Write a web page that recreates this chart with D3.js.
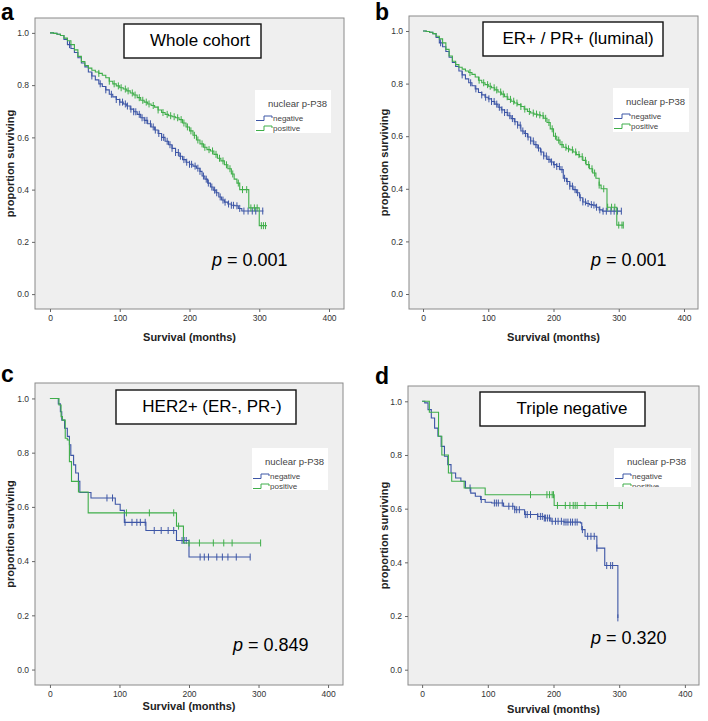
<!DOCTYPE html>
<html>
<head>
<meta charset="utf-8">
<script src="https://cdn.jsdelivr.net/npm/d3@7"></script>
<style>
  body { margin: 0; background: #fff; }
  text { font-family: "Liberation Sans", Arial, sans-serif; }
</style>
</head>
<body>
<svg id="chart" width="708" height="721"></svg>
<script>
// ---- data ----
const xTicks = [0, 100, 200, 300, 400];
const yTicks = [0, 0.2, 0.4, 0.6, 0.8, 1.0];
const panelLetters = ['a', 'b', 'c', 'd'];
const panelTitles = ['Whole cohort', 'ER+ / PR+ (luminal)', 'HER2+ (ER-, PR-)', 'Triple negative'];
const pValues = ['0.001', '0.001', '0.849', '0.320'];
const groups = ['negative', 'positive'];

// [months, proportion surviving] -- value holds from that time on
const wholeNeg = [[0,1],[5,0.998],[10,0.995],[15,0.99],[20,0.975],[25,0.955],[30,0.94],[35,0.925],[40,0.905],[45,0.885],[50,0.87],[55,0.85],[60,0.835],[65,0.82],[70,0.805],[75,0.795],[80,0.782],[85,0.765],[90,0.755],[95,0.745],[100,0.735],[105,0.728],[110,0.72],[115,0.708],[120,0.698],[125,0.688],[130,0.675],[135,0.665],[140,0.652],[145,0.64],[150,0.628],[155,0.615],[160,0.6],[165,0.585],[170,0.572],[175,0.558],[180,0.542],[185,0.528],[190,0.515],[195,0.505],[200,0.497],[205,0.49],[210,0.482],[215,0.47],[218,0.452],[222,0.44],[226,0.425],[230,0.41],[234,0.398],[238,0.388],[242,0.372],[246,0.36],[250,0.352],[255,0.345],[260,0.34],[265,0.338],[270,0.328],[275,0.318],[306,0.318]];
const wholePos = [[0,1],[5,0.998],[10,0.995],[15,0.99],[20,0.98],[25,0.97],[30,0.955],[35,0.935],[40,0.91],[45,0.89],[50,0.875],[55,0.865],[60,0.857],[65,0.85],[70,0.845],[75,0.838],[80,0.828],[85,0.815],[90,0.805],[95,0.797],[100,0.79],[105,0.785],[110,0.778],[115,0.77],[120,0.762],[125,0.752],[130,0.742],[135,0.735],[140,0.728],[145,0.722],[150,0.716],[155,0.705],[160,0.695],[165,0.688],[170,0.683],[175,0.679],[180,0.675],[185,0.668],[190,0.655],[195,0.64],[200,0.625],[205,0.608],[210,0.59],[215,0.575],[220,0.562],[225,0.553],[230,0.548],[235,0.535],[240,0.52],[245,0.51],[250,0.495],[255,0.48],[260,0.46],[264,0.44],[268,0.425],[272,0.4],[285,0.33],[300,0.262],[311,0.262]];
const wholeNegCensor = [28,60,72,80,88,95,100,104,108,111,116,120,123,128,132,136,139,144,148,151,156,160,163,168,172,175,180,184,187,192,196,200,203,208,212,215,220,224,227,232,236,239,244,248,251,256,260,263,268,272,278,284,290,295,305];
const wholePosCensor = [70,85,92,98,102,108,112,118,122,128,133,138,142,148,155,162,168,173,178,183,188,192,197,202,207,212,218,222,228,233,238,243,248,253,258,262,270,276,282,288,293,297,303,306,309];

const luminalNeg = [[0,1],[5,0.998],[10,0.995],[15,0.99],[20,0.975],[25,0.955],[30,0.94],[35,0.922],[40,0.9],[45,0.88],[50,0.865],[55,0.848],[60,0.833],[65,0.818],[70,0.803],[75,0.792],[80,0.78],[85,0.766],[90,0.757],[95,0.748],[100,0.742],[105,0.732],[110,0.722],[115,0.71],[120,0.7],[125,0.69],[130,0.678],[135,0.667],[140,0.655],[145,0.642],[150,0.62],[155,0.61],[160,0.597],[165,0.582],[170,0.568],[175,0.555],[180,0.54],[185,0.525],[190,0.512],[195,0.502],[200,0.492],[205,0.485],[210,0.473],[215,0.44],[220,0.428],[225,0.41],[230,0.397],[235,0.385],[240,0.366],[245,0.35],[250,0.344],[255,0.34],[260,0.338],[265,0.33],[270,0.32],[275,0.315],[304,0.315]];
const luminalPos = [[0,1],[5,0.998],[10,0.995],[15,0.99],[20,0.98],[25,0.97],[30,0.955],[35,0.93],[40,0.905],[45,0.885],[50,0.872],[55,0.862],[60,0.855],[65,0.848],[70,0.842],[75,0.835],[80,0.825],[85,0.813],[90,0.803],[95,0.796],[100,0.79],[105,0.784],[110,0.776],[115,0.768],[120,0.76],[125,0.75],[130,0.74],[135,0.733],[140,0.726],[145,0.72],[150,0.713],[155,0.703],[160,0.694],[165,0.688],[170,0.684],[175,0.681],[180,0.678],[185,0.668],[190,0.652],[195,0.628],[200,0.6],[205,0.585],[210,0.568],[215,0.558],[220,0.552],[225,0.548],[230,0.54],[235,0.53],[240,0.522],[245,0.508],[250,0.492],[255,0.476],[260,0.46],[265,0.44],[270,0.414],[273,0.4],[282,0.33],[297,0.262],[307,0.262]];
const luminalNegCensor = [27,60,73,81,90,96,101,105,109,113,117,121,125,129,133,137,141,145,149,153,157,161,165,169,173,177,181,185,189,193,197,201,205,209,213,217,221,225,229,233,237,241,245,249,253,258,262,266,271,276,281,288,293,298,304];
const luminalPosCensor = [72,86,93,99,103,109,113,119,123,129,134,139,144,150,156,163,169,174,179,184,188,193,198,203,208,213,219,223,229,234,239,244,249,254,259,263,270,277,283,289,294,300,305,307];

const her2Neg = [[0,1],[12,0.98],[15,0.951],[17,0.92],[21,0.89],[25,0.86],[28,0.829],[30,0.79],[34,0.755],[37,0.725],[41,0.694],[43,0.653],[59,0.633],[94,0.61],[101,0.587],[107,0.543],[138,0.513],[182,0.476],[200,0.415],[288,0.415]];
const her2Pos = [[0,1],[13,0.976],[16,0.933],[18,0.92],[22,0.853],[25,0.847],[28,0.767],[31,0.694],[41,0.655],[55,0.578],[182,0.529],[192,0.467],[303,0.467]];
const her2NegCensor = [41,82,90,108,118,125,130,137,150,160,170,178,190,193,196,216,222,228,240,248,256,268,288];
const her2PosCensor = [110,143,178,185,200,215,235,250,262,303];

const tripleNeg = [[0,1],[4,0.994],[9,0.969],[14,0.938],[19,0.9],[24,0.87],[29,0.832],[34,0.795],[39,0.764],[44,0.733],[51,0.714],[59,0.702],[66,0.677],[74,0.658],[81,0.646],[89,0.634],[96,0.624],[106,0.621],[124,0.609],[141,0.596],[156,0.578],[176,0.571],[186,0.565],[196,0.553],[216,0.55],[241,0.547],[243,0.522],[248,0.497],[266,0.453],[278,0.388],[298,0.193]];
const triplePos = [[0,1],[11,0.959],[25,0.87],[30,0.8],[40,0.733],[45,0.702],[64,0.677],[96,0.652],[201,0.612],[305,0.612]];
const tripleNegCensor = [73,90,110,113,116,122,132,138,141,144,148,157,160,165,176,180,183,186,188,191,194,198,203,207,212,216,219,222,226,229,233,236,244,252,257,262,266,281,287,290,298];
const triplePosCensor = [165,190,194,198,200,206,218,225,230,233,236,248,265,282,300,305];

const curves = [
  [wholeNeg, wholePos, wholeNegCensor, wholePosCensor],
  [luminalNeg, luminalPos, luminalNegCensor, luminalPosCensor],
  [her2Neg, her2Pos, her2NegCensor, her2PosCensor],
  [tripleNeg, triplePos, tripleNegCensor, triplePosCensor]
];

// ---- layout ----
const colors = { negative: '#3d56a6', positive: '#3fae4a' };
const layout = [
  { frame: [35, 18, 344, 309], letter: [1, 20], box: [124, 24, 261, 58], titleX: 200, legend: [255, 90, 331, 133], p: [212, 266], yTitleX: 14, xTitleY: 341 },
  { frame: [409, 16, 698, 309], letter: [375, 20], box: [483, 22, 663, 56], titleX: 578, legend: [613, 88, 689, 132], p: [591, 266], yTitleX: 388, xTitleY: 341 },
  { frame: [35, 383, 343, 685], letter: [1, 382], box: [116, 390, 296, 424], titleX: 212, legend: [252, 448, 328, 490], p: [233, 651], yTitleX: 14, xTitleY: 710 },
  { frame: [408, 386, 699, 685], letter: [375, 384], box: [480, 392, 645, 426], titleX: 572, legend: [614, 448, 691, 487], p: [591, 644], yTitleX: 388, xTitleY: 713 }
];

const svg = d3.select('#chart');

function survivalAt(curve, t) {
  let s = curve[0][1];
  for (const [tt, ss] of curve) {
    if (tt <= t) s = ss;
    else break;
  }
  return s;
}

function drawPanel(i) {
  const L = layout[i];
  const [negCurve, posCurve, negCens, posCens] = curves[i];
  const [x0, y0, x1, y1] = L.frame;
  const g = svg.append('g').attr('class', 'panel-' + panelLetters[i]);

  const x = d3.scaleLinear().domain([-21.5, 421.5]).range([x0, x1]);
  const y = d3.scaleLinear().domain([-0.057, 1.057]).range([y1, y0]);

  g.append('rect')
    .attr('x', x0).attr('y', y0)
    .attr('width', x1 - x0).attr('height', y1 - y0)
    .attr('fill', '#efefef')
    .attr('stroke', '#8a8a8a').attr('stroke-width', 1);

  // axes
  const xAxis = d3.axisBottom(x).tickValues(xTicks).tickSize(3).tickPadding(3);
  const yAxis = d3.axisLeft(y).tickValues(yTicks).tickSize(3).tickPadding(3).tickFormat(d3.format('.1f'));
  [g.append('g').attr('transform', `translate(0,${y1})`).call(xAxis),
   g.append('g').attr('transform', `translate(${x0},0)`).call(yAxis)].forEach(a => {
    a.select('.domain').remove();
    a.selectAll('line').attr('stroke', '#666');
    a.selectAll('text').attr('fill', '#333').attr('font-size', 8.5)
      .attr('font-family', '"Liberation Sans", Arial, sans-serif');
  });

  g.append('text')
    .attr('transform', `translate(${L.yTitleX},${(y0 + y1) / 2}) rotate(-90)`)
    .attr('text-anchor', 'middle')
    .attr('font-weight', 'bold').attr('font-size', 11)
    .attr('fill', '#222')
    .text('proportion surviving');

  g.append('text')
    .attr('x', (x(0) + x(400)) / 2).attr('y', L.xTitleY)
    .attr('text-anchor', 'middle')
    .attr('font-weight', 'bold').attr('font-size', 11)
    .attr('fill', '#222')
    .text('Survival (months)');

  // KM curves
  const line = d3.line().x(d => x(d[0])).y(d => y(d[1])).curve(d3.curveStepAfter);
  [[negCurve, negCens, 'negative'], [posCurve, posCens, 'positive']].forEach(([c, cens, key]) => {
    g.append('path')
      .datum(c)
      .attr('d', line)
      .attr('fill', 'none')
      .attr('stroke', colors[key])
      .attr('stroke-width', 1.1);
    g.selectAll(null)
      .data(cens)
      .enter()
      .append('line')
      .attr('x1', d => x(d)).attr('x2', d => x(d))
      .attr('y1', d => y(survivalAt(c, d)) - 3.5)
      .attr('y2', d => y(survivalAt(c, d)) + 3.5)
      .attr('stroke', colors[key])
      .attr('stroke-width', 1);
  });

  // legend
  const [lx0, ly0, lx1, ly1] = L.legend;
  const clipId = 'legclip' + i;
  g.append('clipPath').attr('id', clipId)
    .append('rect').attr('x', lx0).attr('y', ly0).attr('width', lx1 - lx0).attr('height', ly1 - ly0);
  const leg = g.append('g').attr('clip-path', `url(#${clipId})`);
  leg.append('rect')
    .attr('x', lx0).attr('y', ly0)
    .attr('width', lx1 - lx0).attr('height', ly1 - ly0)
    .attr('fill', '#fff');
  leg.append('text')
    .attr('x', lx0 + 13).attr('y', ly0 + 17)
    .attr('font-size', 9.5).attr('fill', '#444')
    .text('nuclear p-P38');
  groups.forEach((key, k) => {
    const yy = ly0 + 28 + k * 10;
    leg.append('path')
      .attr('d', `M${lx0 + 1},${yy + 2.5}H${lx0 + 9}V${yy - 2}H${lx0 + 17}V${yy}`)
      .attr('fill', 'none')
      .attr('stroke', colors[key]).attr('stroke-width', 1);
    leg.append('text')
      .attr('x', lx0 + 18).attr('y', yy + 3)
      .attr('font-size', 8).attr('fill', '#444')
      .text(key);
  });

  // title box
  const [bx0, by0, bx1, by1] = L.box;
  g.append('rect')
    .attr('x', bx0).attr('y', by0)
    .attr('width', bx1 - bx0).attr('height', by1 - by0)
    .attr('fill', '#fff')
    .attr('stroke', '#111').attr('stroke-width', 1.4);
  g.append('text')
    .attr('x', L.titleX).attr('y', by0 + 22)
    .attr('text-anchor', 'middle')
    .attr('font-family', 'Lato, "Open Sans", sans-serif')
    .attr('font-size', 17).attr('fill', '#000')
    .text(panelTitles[i]);

  // p value
  const pt = g.append('text')
    .attr('x', L.p[0]).attr('y', L.p[1])
    .attr('font-family', 'Lato, "Open Sans", sans-serif')
    .attr('font-size', 18).attr('fill', '#000');
  pt.append('tspan').attr('font-style', 'italic').text('p');
  pt.append('tspan').text(' = ' + pValues[i]);

  // panel letter
  g.append('text')
    .attr('x', L.letter[0]).attr('y', L.letter[1])
    .attr('font-weight', 'bold').attr('font-size', 23)
    .attr('fill', '#000')
    .text(panelLetters[i]);
}

panelLetters.forEach((_, i) => drawPanel(i));
</script>
</body>
</html>
